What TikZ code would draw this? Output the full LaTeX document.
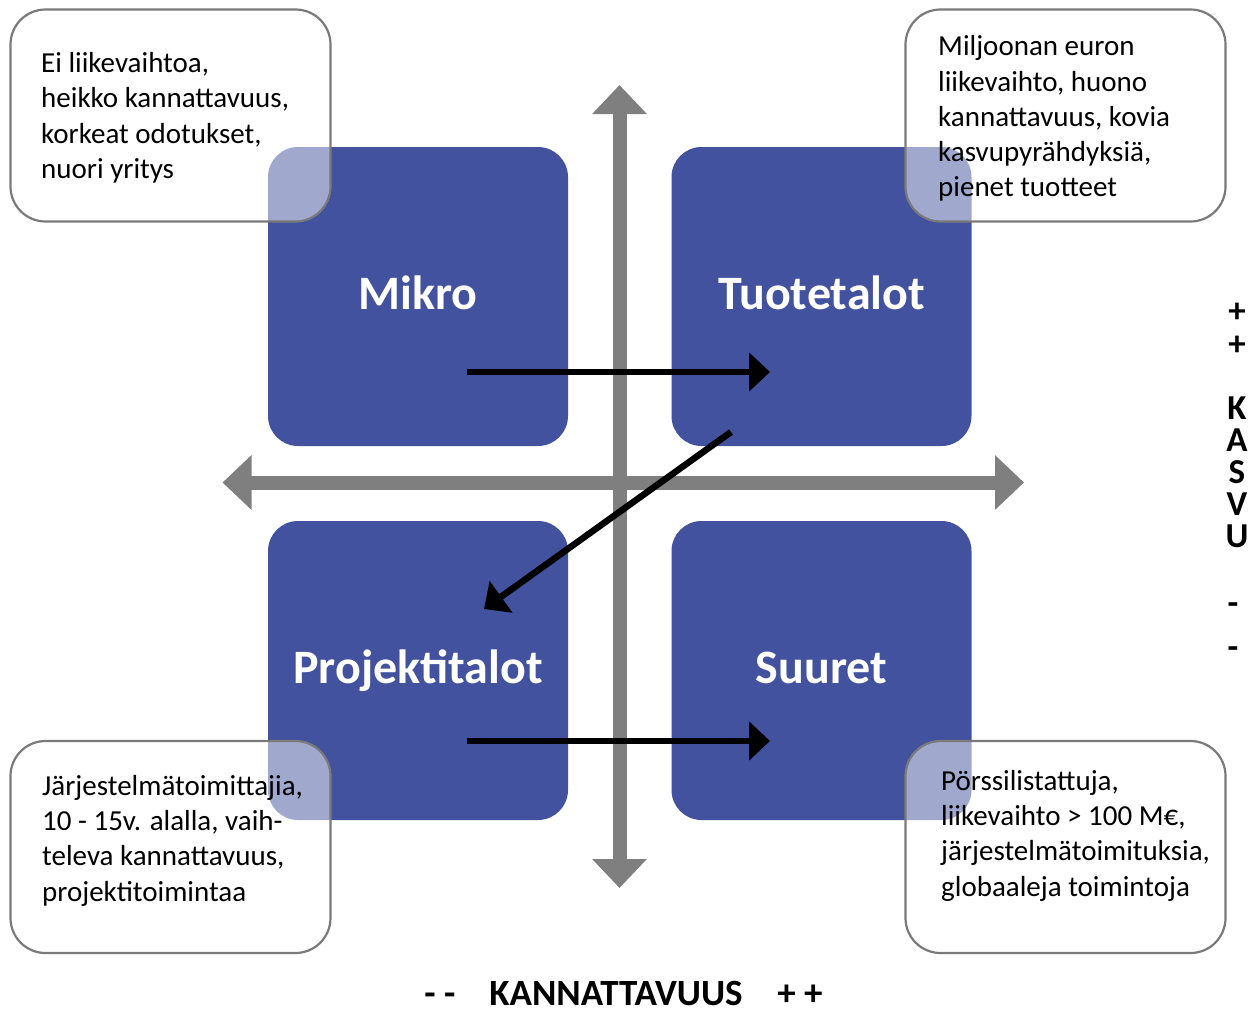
\documentclass[tikz,border=0pt]{standalone}
\usepackage{fontspec}
\setmainfont{Carlito}
\usetikzlibrary{arrows.meta}
\definecolor{boxblue}{HTML}{42529E}
\definecolor{axisgray}{HTML}{7F7F7F}
\definecolor{calloutgray}{HTML}{7A7A7A}
\begin{document}
\begin{tikzpicture}[x=1pt,y=-1pt,
  quad/.style={fill=boxblue, rounded corners=30pt, minimum width=300pt, minimum height=299pt,
    inner sep=0pt, text=white, font=\fontsize{48}{54}\selectfont\bfseries,
    text height=25pt, text depth=0pt},
  callout/.style={draw=calloutgray, line width=2.2pt, fill=white, fill opacity=0.5, draw opacity=1,
    rounded corners=35pt, minimum width=320pt, minimum height=212pt, inner sep=0pt},
  callouttext/.style={anchor=north west, inner sep=0pt, align=left, text=black,
    font=\fontsize{29}{35.3}\selectfont},
  axis/.style={draw=axisgray, line width=14pt,
    {Triangle[length=29pt,width=53pt]}-{Triangle[length=29pt,width=53pt]}},
  flow/.style={draw=black, line width=6.5pt, -{Triangle[length=21pt,width=38pt]}},
  axislabel/.style={anchor=base, inner sep=0pt, font=\fontsize{37}{40}\selectfont\bfseries},
  vlabel/.style={anchor=center, inner sep=0pt, font=\fontsize{35}{40}\selectfont\bfseries}
]
\useasboundingbox (0,0) rectangle (1258,1015);

% quadrant boxes
\node[quad] (mikro) at (418,296.5) {Mikro};
\node[quad] (tuote) at (821.5,296.5) {Tuotetalot};
\node[quad] (proj) at (418,670.5) {Projektitalot};
\node[quad] (suuret) at (821.5,670.5) {Suuret};

% axes
\coordinate (vtop) at (619.5,85);
\coordinate (vbot) at (619.5,888);
\coordinate (hleft) at (222.5,482.5);
\coordinate (hright) at (1024,482.5);
\draw[axis] (vtop) -- (vbot);
\draw[axis] (hleft) -- (hright);

% flow arrows
\coordinate (f1s) at (467,372);
\coordinate (f1e) at (770,372);
\coordinate (f2s) at (731,432);
\coordinate (f2e) at (484,609);
\coordinate (f3s) at (467,741);
\coordinate (f3e) at (770,741);
\draw[flow] (f1s) -- (f1e);
\draw[flow] (f2s) -- (f2e);
\draw[flow] (f3s) -- (f3e);

% callouts
\node[callout] (ctl) at (170.5,115.5) {};
\node[callout] (ctr) at (1065.5,115.5) {};
\node[callout] (cbl) at (170.5,847) {};
\node[callout] (cbr) at (1065.5,847) {};

\node[callouttext] (ttl) at (41,47.5) {\strut Ei liikevaihtoa,\\heikko kannattavuus,\\korkeat odotukset,\\nuori yritys};
\node[callouttext] (ttr) at (938,30.8) {\strut Miljoonan euron\\liikevaihto, huono\\kannattavuus, kovia\\kasvupyrähdyksiä,\\pienet tuotteet};
\node[callouttext] (tbl) at (42,770.3) {\strut Järjestelmätoimittajia,\\10 - 15v. alalla, vaih-\\televa kannattavuus,\\projektitoimintaa};
\node[callouttext] (tbr) at (941,765.3) {\strut Pörssilistattuja,\\liikevaihto > 100 M€,\\järjestelmätoimituksia,\\globaaleja toimintoja};

% bottom axis label
\node[axislabel] (lminus) at (440,1005) {- -};
\node[axislabel] (lkann) at (616,1005) {KANNATTAVUUS};
\node[axislabel] (lplus) at (800,1005) {+ +};

% right axis label
\node[vlabel] (v1) at (1237,313) {+};
\node[vlabel] (v2) at (1237,346) {+};
\node[vlabel] (v3) at (1237,408) {K};
\node[vlabel] (v4) at (1237,440) {A};
\node[vlabel] (v5) at (1237,472) {S};
\node[vlabel] (v6) at (1237,504) {V};
\node[vlabel] (v7) at (1237,536) {U};
\node[vlabel] (v8) at (1233,609) {-};
\node[vlabel] (v9) at (1233,653) {-};
\end{tikzpicture}
\end{document}
